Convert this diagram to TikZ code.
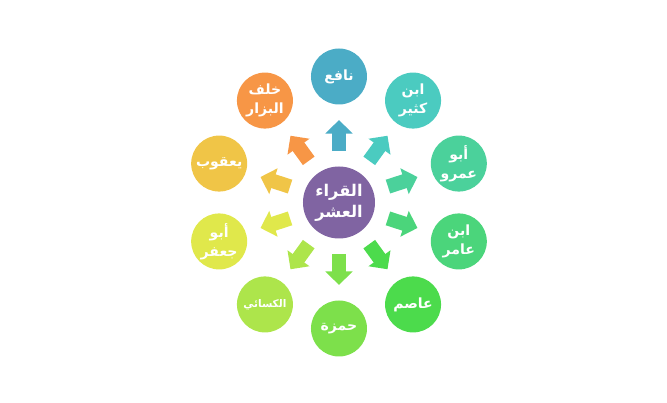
\documentclass[tikz,border=0pt]{standalone}
\usepackage{fontspec}
\usetikzlibrary{arrows.meta}
\newfontfamily\arabicfont[Script=Arabic]{DejaVu Sans}
\TeXXeTstate=1
\definecolor{cCore}{HTML}{8064A2}
\definecolor{cNafi}{HTML}{4BACC6}
\definecolor{cKathir}{HTML}{4BCBC0}
\definecolor{cAmr}{HTML}{4BD19B}
\definecolor{cAmir}{HTML}{4BD57B}
\definecolor{cAsim}{HTML}{4CDB4C}
\definecolor{cHamza}{HTML}{7DE04B}
\definecolor{cKisai}{HTML}{ADE54B}
\definecolor{cJafar}{HTML}{E0E84B}
\definecolor{cYaqub}{HTML}{F0C547}
\definecolor{cKhalaf}{HTML}{F79646}
\begin{document}
\begin{tikzpicture}[qari/.style={shape=circle,minimum size=1.4cm,inner sep=0pt,text=white,align=center,font=\arabicfont\bfseries\fontsize{10}{13.5}\selectfont},core/.style={qari,minimum size=1.8cm,fill=cCore,font=\arabicfont\bfseries\fontsize{11.5}{15}\selectfont},flow/.style={line width=0.36cm,-{Triangle[length=0.34cm,width=0.66cm]},shorten <=0.38cm,shorten >=0.38cm}]
\def\dr{3.15};

\useasboundingbox (-8.475,-5.0125) rectangle (8.2,5.0625);

\node[core] (Q) at (0,0) {\beginR القراء\endR\\\beginR العشر\endR};

\node[qari,fill=cNafi] (N) at (90:\dr) {\beginR نافع\endR};
\draw[flow,cNafi] (Q) -- (N);
\node[qari,fill=cKathir] (K) at (54:\dr) {\beginR ابن\endR\\\beginR كثير\endR};
\draw[flow,cKathir] (Q) -- (K);
\node[qari,fill=cAmr] (AA) at (18:\dr) {\beginR أبو\endR\\\beginR عمرو\endR};
\draw[flow,cAmr] (Q) -- (AA);
\node[qari,fill=cAmir] (IA) at (-18:\dr) {\beginR ابن\endR\\\beginR عامر\endR};
\draw[flow,cAmir] (Q) -- (IA);
\node[qari,fill=cAsim] (AS) at (-54:\dr) {\beginR عاصم\endR};
\draw[flow,cAsim] (Q) -- (AS);
\node[qari,fill=cHamza] (H) at (-90:\dr) {\beginR حمزة\endR};
\draw[flow,cHamza] (Q) -- (H);
\node[qari,fill=cKisai,font=\arabicfont\bfseries\fontsize{7.5}{9}\selectfont] (KS) at (-126:\dr) {\beginR الكسائي\endR};
\draw[flow,cKisai] (Q) -- (KS);
\node[qari,fill=cJafar] (AJ) at (-162:\dr) {\beginR أبو\endR\\\beginR جعفر\endR};
\draw[flow,cJafar] (Q) -- (AJ);
\node[qari,fill=cYaqub] (Y) at (162:\dr) {\beginR يعقوب\endR};
\draw[flow,cYaqub] (Q) -- (Y);
\node[qari,fill=cKhalaf] (KB) at (126:\dr) {\beginR خلف\endR\\\beginR البزار\endR};
\draw[flow,cKhalaf] (Q) -- (KB);
\end{tikzpicture}
\end{document}
